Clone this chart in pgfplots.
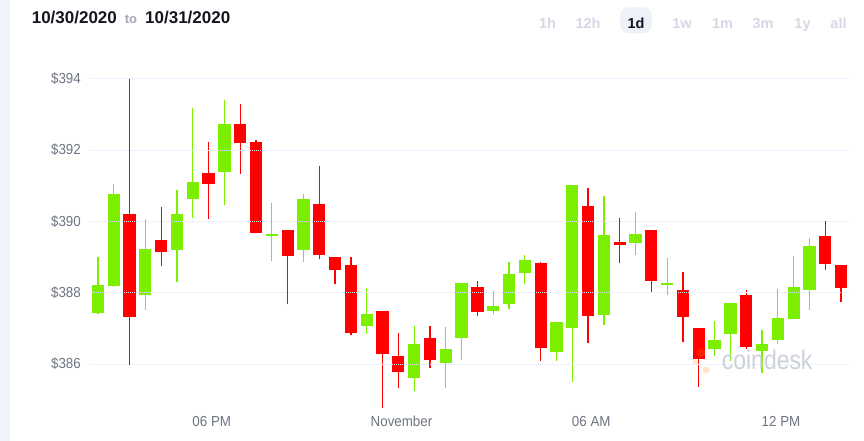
\documentclass[border=0pt]{standalone}
\usepackage{fontspec}
\setmainfont{Liberation Sans}
\newfontfamily\narrow[FakeStretch=0.92]{Liberation Sans}
\newfontfamily\wmfont[FakeStretch=0.85]{Liberation Sans}
\usepackage{pgfplots}
\usepackage{pgfplotstable}
\pgfplotsset{compat=1.18}
\definecolor{upc}{HTML}{7CEE00}
\definecolor{dnc}{HTML}{FF0000}
\definecolor{gridc}{HTML}{E0E3F1}
\definecolor{tickc}{HTML}{6E7482}
\definecolor{btnc}{HTML}{D5D9E6}
\definecolor{pillc}{HTML}{EEF1F8}
\definecolor{stripc}{HTML}{F0F4F9}
\definecolor{wmc}{HTML}{C5C9D4}
\definecolor{headc}{HTML}{15151F}
\definecolor{toc}{HTML}{A3A7B3}

% green (close > open) candles: index, open, close, high, low
\pgfplotstableread{
x o c h l
0 387.43 388.21 388.99 387.41
1 388.19 390.76 391.04 388.17
3 387.94 389.24 390.06 387.52
5 389.20 390.20 390.88 388.31
6 390.63 391.10 393.19 390.10
8 391.39 392.72 393.39 390.47
11 389.60 389.63 390.52 388.89
13 389.21 390.62 390.77 388.85
17 387.07 387.39 388.14 386.84
20 385.62 386.57 387.08 385.24
22 386.03 386.41 387.03 385.34
23 386.73 388.27 388.27 386.10
25 387.50 387.64 388.06 387.39
26 387.69 388.52 388.85 387.54
27 388.55 388.93 389.06 388.25
29 386.35 387.17 387.17 386.08
30 387.02 391.01 391.03 385.49
32 387.38 389.61 390.71 387.10
34 389.39 389.64 390.25 389.07
36 388.21 388.24 388.96 387.93
39 386.41 386.67 387.20 386.23
40 386.84 387.72 387.72 386.08
42 386.36 386.55 386.96 385.76
43 386.68 387.30 388.11 386.57
44 387.26 388.17 389.03 387.26
45 388.09 389.32 389.54 387.52
}\uptab

% red (close < open) candles
\pgfplotstableread{
x o c h l
2 390.20 387.32 394.00 385.96
4 389.48 389.15 390.40 388.76
7 391.35 391.06 392.22 390.07
9 392.74 392.19 393.28 391.34
10 392.22 389.68 392.27 389.68
12 389.75 389.04 389.75 387.68
14 390.48 389.07 391.54 388.94
15 388.99 388.65 388.99 388.24
16 388.79 386.88 388.99 386.81
18 387.50 386.27 387.50 384.78
19 386.24 385.78 386.86 385.34
21 386.72 386.10 387.08 385.90
24 388.17 387.46 388.33 387.36
28 388.82 386.44 388.87 386.08
31 390.43 387.36 390.93 386.59
33 389.41 389.35 390.10 388.82
35 389.75 388.33 389.75 388.02
37 388.07 387.33 388.58 386.61
38 387.02 386.15 387.02 385.36
41 387.93 386.48 388.07 386.43
46 389.59 388.80 390.00 388.63
47 388.78 388.13 388.78 387.75
}\dntab

\begin{document}
\begin{tikzpicture}
\useasboundingbox (0pt,0pt) rectangle (864pt,441pt);
\fill[white] (0pt,0pt) rectangle (864pt,441pt);
\fill[stripc] (0pt,0pt) rectangle (10pt,441pt);

% header
\node[anchor=base west, inner sep=0pt, text=headc, font=\bfseries\fontsize{17}{20}\selectfont] at (31.6pt,417.7pt) {10/30/2020};
\node[anchor=base west, inner sep=0pt, text=toc, font=\bfseries\fontsize{13}{15}\selectfont] at (124.6pt,417.7pt) {to};
\node[anchor=base west, inner sep=0pt, text=headc, font=\bfseries\fontsize{17}{20}\selectfont] at (145pt,417.7pt) {10/31/2020};

\fill[pillc, rounded corners=9pt] (620pt,407.7pt) rectangle (652pt,433.7pt);
\foreach \xx/\tt in {547.5/1h, 588/12h, 682/1w, 722.5/1m, 763/3m, 802.5/1y, 838.5/all}{
  \node[anchor=base, inner sep=0pt, text=btnc, font=\bfseries\fontsize{14.5}{16}\selectfont] at (\xx pt,412.7pt) {\tt};
}
\node[anchor=base, inner sep=0pt, text=headc, font=\bfseries\fontsize{14.5}{16}\selectfont] at (636pt,412.7pt) {1d};

\begin{axis}[
  at={(90pt,27pt)}, anchor=south west,
  scale only axis, width=759pt, height=353.1pt,
  xmin=-0.5, xmax=47.5, ymin=384.6, ymax=394.5,
  axis line style={draw=none},
  major tick length=0pt,
  xtick={7.2,19.2,31.2,43.2},
  xticklabels={06 PM,November,06 AM,12 PM},
  ytick={386,388,390,392,394},
  yticklabels={\$386,\$388,\$390,\$392,\$394},
  ymajorgrids,
  grid style={gridc, line width=1pt, dash pattern=on 1pt off 1pt},
  axis on top,
  tick label style={font=\narrow\fontsize{14.5}{16}\selectfont, text=tickc},
  xticklabel style={anchor=base, yshift=-12.7pt},
  yticklabel style={anchor=east, inner sep=0pt, xshift=-9pt},
  candle/.style={only marks, mark=*, mark size=0pt,
    mark options={draw=none, fill=none, draw opacity=0, fill opacity=0},
    forget plot},
]
% wicks
\addplot[candle,
  error bars/.cd, y dir=plus, y explicit, error mark=none,
  error bar style={line width=1.2pt, upc, draw opacity=1}]
  table[x=x, y=l, y error plus expr=\thisrow{h}-\thisrow{l}] {\uptab};
\addplot[candle,
  error bars/.cd, y dir=plus, y explicit, error mark=none,
  error bar style={line width=1.2pt, dnc, draw opacity=1}]
  table[x=x, y=l, y error plus expr=\thisrow{h}-\thisrow{l}] {\dntab};
% bodies
\addplot[candle,
  error bars/.cd, y dir=plus, y explicit, error mark=none,
  error bar style={line width=12.3pt, upc, draw opacity=1}]
  table[x=x, y=o, y error plus expr={max(\thisrow{c}-\thisrow{o},0.05)}] {\uptab};
\addplot[candle,
  error bars/.cd, y dir=plus, y explicit, error mark=none,
  error bar style={line width=12.3pt, dnc, draw opacity=1}]
  table[x=x, y=c, y error plus expr={max(\thisrow{o}-\thisrow{c},0.05)}] {\dntab};
\end{axis}

% watermark
\fill[orange, opacity=0.22] (701pt,88pt) circle (4.5pt);
\fill[orange, opacity=0.22] (706pt,71pt) circle (3.5pt);
\fill[orange, opacity=0.18] (695pt,79pt) circle (2.5pt);
\node[anchor=base west, inner sep=0pt, text=wmc, opacity=0.85, font=\wmfont\fontsize{27}{30}\selectfont] at (721.7pt,71pt) {coindesk};
\end{tikzpicture}
\end{document}
